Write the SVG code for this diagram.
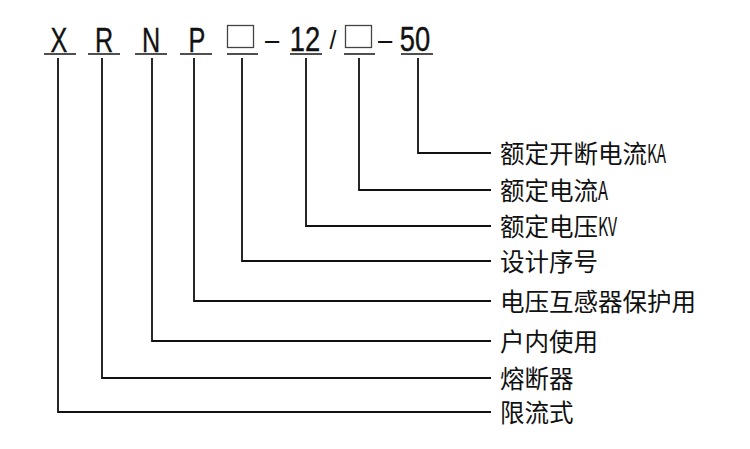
<svg xmlns="http://www.w3.org/2000/svg" width="750" height="449" viewBox="0 0 750 449">
<style>
.code{font-family:"Liberation Sans",Arial,sans-serif;font-size:36px;fill:#111;stroke:#111;stroke-width:0.4;text-anchor:middle}
.sym{font-family:"Liberation Sans",Arial,sans-serif;fill:#111;text-anchor:middle}
.ul{stroke:#222;stroke-width:1.6;fill:none}
.box{fill:none;stroke:#444;stroke-width:1.3}
.lbl{font-family:"Noto Sans CJK SC","Noto Sans",sans-serif;font-size:24.5px;fill:#111}
.lat{font-size:26px}
.conn polyline{fill:none;stroke:#111;stroke-width:1.8;stroke-linejoin:miter}
</style>
<rect width="750" height="449" fill="#fff"/>
<g id="code-X"><text class="code" transform="translate(59,51.5) scale(0.7,1)">X</text><line class="ul" x1="44" y1="54" x2="76" y2="54"/></g>
<g id="code-R"><text class="code" transform="translate(104,51.5) scale(0.7,1)">R</text><line class="ul" x1="88" y1="54" x2="120" y2="54"/></g>
<g id="code-N"><text class="code" transform="translate(151,51.5) scale(0.7,1)">N</text><line class="ul" x1="135" y1="54" x2="167" y2="54"/></g>
<g id="code-P"><text class="code" transform="translate(197,51.5) scale(0.7,1)">P</text><line class="ul" x1="180" y1="54" x2="212" y2="54"/></g>
<g id="code-box1"><rect class="box" x="227.5" y="25.5" width="26" height="22"/><line class="ul" x1="227" y1="54" x2="258" y2="54"/></g>
<g id="dash1"><text class="sym" font-size="30" transform="translate(272,50) scale(0.85,1)">–</text></g>
<g id="code-12"><text class="code" transform="translate(305,50.5) scale(0.76,1)">12</text><line class="ul" x1="290" y1="54" x2="322" y2="54"/></g>
<g id="slash"><text class="sym" font-size="25" x="333" y="49">/</text></g>
<g id="code-box2"><rect class="box" x="345.5" y="25.5" width="26" height="22"/><line class="ul" x1="344" y1="54" x2="375" y2="54"/></g>
<g id="dash2"><text class="sym" font-size="30" transform="translate(385,50) scale(0.85,1)">–</text></g>
<g id="code-50"><text class="code" transform="translate(415,50.5) scale(0.76,1)">50</text><line class="ul" x1="401" y1="54" x2="433" y2="54"/></g>

<g id="connectors" class="conn">
<polyline points="418,58 418,153 491,153"/>
<polyline points="359,58 359,190 491,190"/>
<polyline points="306,58 306,226 491,226"/>
<polyline points="242,58 242,261 491,261"/>
<polyline points="194,58 194,301 491,301"/>
<polyline points="152,58 152,341 491,341"/>
<polyline points="102,58 102,378 491,378"/>
<polyline points="58,58 58,412 491,412"/>
</g>

<g id="label-ka"><text class="lbl" x="500" y="163">额定开断电流<tspan class="lat" textLength="19" lengthAdjust="spacingAndGlyphs">KA</tspan></text></g>
<g id="label-a"><text class="lbl" x="500" y="200">额定电流<tspan class="lat" textLength="10" lengthAdjust="spacingAndGlyphs">A</tspan></text></g>
<g id="label-kv"><text class="lbl" x="500" y="236">额定电压<tspan class="lat" textLength="19" lengthAdjust="spacingAndGlyphs">KV</tspan></text></g>
<g id="label-design"><text class="lbl" x="500" y="271">设计序号</text></g>
<g id="label-pt"><text class="lbl" x="500" y="311">电压互感器保护用</text></g>
<g id="label-indoor"><text class="lbl" x="500" y="351">户内使用</text></g>
<g id="label-fuse"><text class="lbl" x="500" y="388">熔断器</text></g>
<g id="label-limit"><text class="lbl" x="500" y="422">限流式</text></g>
</svg>
